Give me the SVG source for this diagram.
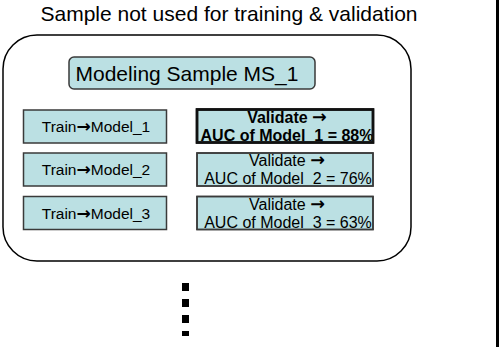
<svg xmlns="http://www.w3.org/2000/svg" width="499" height="347" viewBox="0 0 499 347">
<style>
text{font-family:"Liberation Sans",Arial,sans-serif;fill:#000}
.arr{font-family:"DejaVu Sans",sans-serif;font-weight:bold;font-size:1.1em}
.box{fill:#bbe0e3;stroke:#3a3a3a;stroke-width:1.5}
.vbold{fill:#bbe0e3;stroke:#111;stroke-width:2.5}
.t15{font-size:15.5px}
.t16{font-size:16px}
.b{font-weight:bold}
</style>
<defs>
<clipPath id="c1"><rect x="197" y="109.5" width="176" height="33"/></clipPath>
<clipPath id="c2"><rect x="197" y="153" width="176" height="33"/></clipPath>
<clipPath id="c3"><rect x="197" y="196.5" width="176" height="33"/></clipPath>
</defs>
<rect x="0" y="0" width="499" height="347" fill="#fff"/>
<rect x="496" y="0" width="3" height="347" fill="#000"/>
<text x="229" y="20.5" font-size="21" text-anchor="middle">Sample not used for training &amp; validation</text>
<g id="outer">
<rect x="3" y="35" width="408" height="226" rx="34" ry="34" fill="none" stroke="#000" stroke-width="1.5"/>
</g>
<g id="ms1">
<rect x="69" y="57" width="246" height="32" rx="5" class="box"/>
<text x="187" y="81" font-size="21" text-anchor="middle">Modeling Sample MS_1</text>
</g>
<g id="train1">
<rect x="23.5" y="110" width="143" height="33" class="box"/>
<text x="96" y="132" class="t15" text-anchor="middle">Train<tspan class="arr">→</tspan>Model_1</text>
</g>
<g id="train2">
<rect x="23.5" y="153" width="143" height="33" class="box"/>
<text x="96" y="175" class="t15" text-anchor="middle">Train<tspan class="arr">→</tspan>Model_2</text>
</g>
<g id="train3">
<rect x="23.5" y="196.5" width="143" height="33" class="box"/>
<text x="96" y="218.5" class="t15" text-anchor="middle">Train<tspan class="arr">→</tspan>Model_3</text>
</g>
<g id="val1">
<rect x="197" y="109.5" width="176" height="33" class="vbold"/>
<g clip-path="url(#c1)">
<text x="287" y="122.5" class="t16 b" text-anchor="middle">Validate <tspan class="arr">→</tspan></text>
<text x="287" y="141" class="t16 b" text-anchor="middle">AUC of Model_1 = 88%</text>
</g>
<rect x="197" y="109.5" width="176" height="33" fill="none" stroke="#111" stroke-width="2.5"/>
</g>
<g id="val2">
<rect x="197" y="153" width="176" height="33" class="box"/>
<g clip-path="url(#c2)">
<text x="287" y="165.5" class="t16" text-anchor="middle">Validate <tspan class="arr">→</tspan></text>
<text x="288" y="184" class="t16" text-anchor="middle">AUC of Model_2 = 76%</text>
</g>
<rect x="197" y="153" width="176" height="33" fill="none" stroke="#3a3a3a" stroke-width="1.5"/>
</g>
<g id="val3">
<rect x="197" y="196.5" width="176" height="33" class="box"/>
<g clip-path="url(#c3)">
<text x="287" y="209.5" class="t16" text-anchor="middle">Validate <tspan class="arr">→</tspan></text>
<text x="288" y="228" class="t16" text-anchor="middle">AUC of Model_3 = 63%</text>
</g>
<rect x="197" y="196.5" width="176" height="33" fill="none" stroke="#3a3a3a" stroke-width="1.5"/>
</g>
<g id="connectors"></g>
<g id="dots" fill="#000">
<rect x="182" y="283" width="7" height="8"/>
<rect x="182" y="299" width="7" height="8"/>
<rect x="182" y="315" width="7" height="8"/>
<rect x="182" y="331" width="7" height="5"/>
</g>
</svg>
